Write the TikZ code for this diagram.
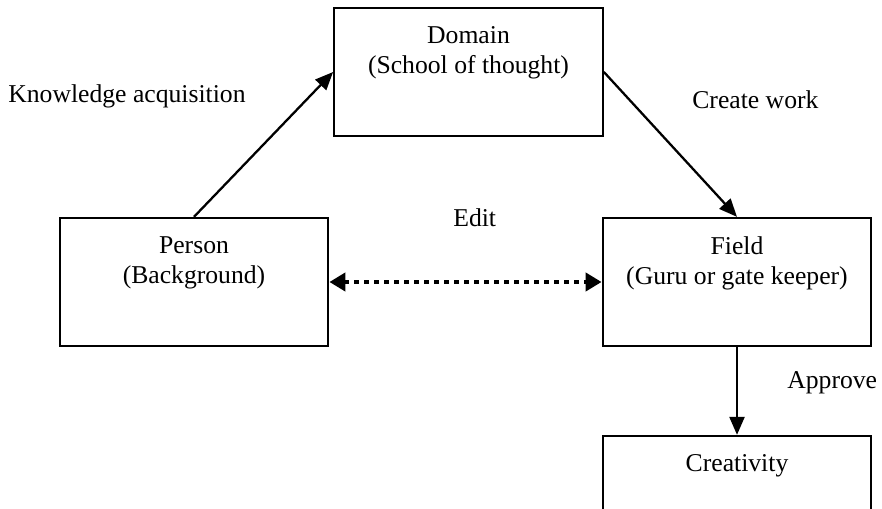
\documentclass[tikz,border=0pt]{standalone}
\usepackage{fontspec}
\setmainfont{Liberation Serif}
\usetikzlibrary{arrows.meta,positioning}

\begin{document}
\begin{tikzpicture}[x=1cm,y=1cm,
  stagebox/.style={draw,line width=1.3pt,minimum width=5.37cm,minimum height=2.56cm,inner sep=0pt},
  stagetext/.style={align=center,inner sep=0pt,font=\fontsize{14.6}{17}\selectfont},
  flowlabel/.style={inner sep=0pt,anchor=base west,font=\fontsize{14.6}{17}\selectfont},
  flow/.style={line width=1.3pt,-{Triangle[length=0.36cm,width=0.3cm]}},
  editflow/.style={line width=2.8pt,dash pattern=on 0.1cm off 0.1cm,
    {Triangle[length=0.32cm,width=0.36cm]}-{Triangle[length=0.32cm,width=0.36cm]}}]
\clip (0,0) rectangle (17.64,10.16);
\node[stagebox] (domain) at (9.37,8.72) {};
\node[stagebox] (person) at (3.88,4.52) {};
\node[stagebox] (field) at (14.74,4.52) {};
\node[stagebox] (creativity) at (14.74,0.16) {};
\node[stagetext,below=0.39cm of domain.north] (domaintext) {Domain\\(School of thought)};
\node[stagetext,below=0.39cm of person.north] (persontext) {Person\\(Background)};
\node[stagetext,below=0.39cm of field.north] (fieldtext) {Field\\(Guru or gate keeper)};
\node[stagetext,below=0.39cm of creativity.north] (creativitytext) {Creativity};
\node[flowlabel] (acquire) at (0.16,8.10) {Knowledge acquisition};
\node[flowlabel] (create) at (13.84,7.98) {Create work};
\node[flowlabel] (edit) at (9.06,5.62) {Edit};
\node[flowlabel] (approve) at (15.74,2.40) {Approve};
\draw[flow] (person.north) -- (domain.west);
\draw[flow] (domain.east) -- (field.north);
\draw[flow] (field.south) -- (creativity.north);
\draw[editflow] (person.east) -- (field.west);
\end{tikzpicture}
\end{document}
